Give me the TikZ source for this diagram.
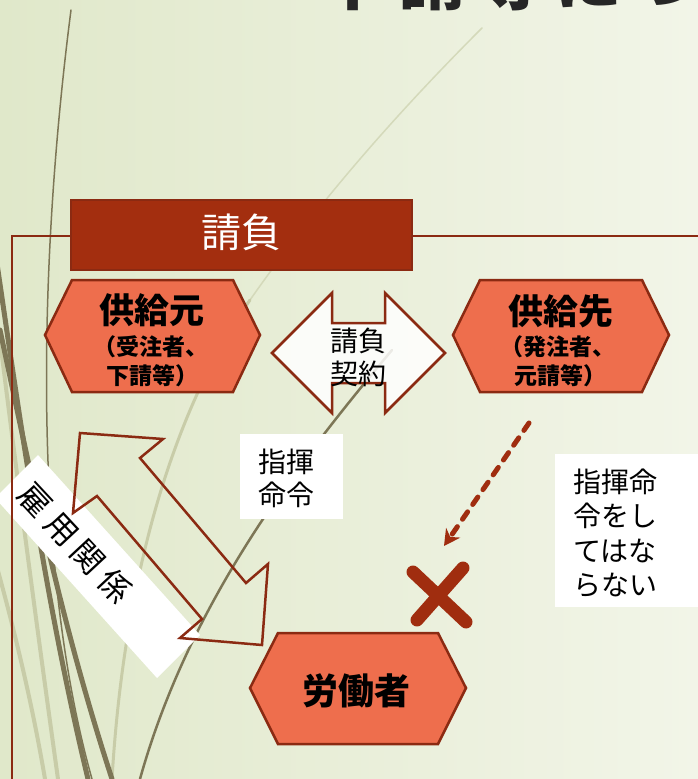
\documentclass[tikz,border=0pt]{standalone}
\usepackage{fontspec}
\setmainfont{Noto Sans CJK JP}
\usetikzlibrary{arrows.meta}
\definecolor{hexfill}{RGB}{238,110,77}
\definecolor{hexline}{RGB}{139,42,18}
\definecolor{hdrfill}{RGB}{163,46,15}
\definecolor{grassdark}{RGB}{125,118,86}
\definecolor{grasslight}{RGB}{200,204,168}
\definecolor{grassfaint}{RGB}{212,217,186}
\definecolor{bgl}{RGB}{224,232,202}
\definecolor{bgr}{RGB}{242,245,232}
\definecolor{xred}{RGB}{160,45,15}
\definecolor{titlecol}{RGB}{38,38,38}
\newcommand{\fsz}[1]{\fontsize{#1}{#1}\selectfont}
\begin{document}
\begin{tikzpicture}[x=1pt,y=-1pt,
  hexa/.style={fill=hexfill,draw=hexline,line width=2.5pt,line join=miter},
  blockarrow/.style={draw=hexline,line width=2.5pt,line join=miter},
  frameline/.style={draw=hexline,line width=2pt},
  grassD/.style={draw=grassdark,line cap=round},
  grassL/.style={draw=grasslight,line cap=round},
  lbl/.style={inner sep=0pt,text=black},
  whitebox/.style={fill=white,draw=none,inner sep=0pt},
  dasharrow/.style={draw=xred,line width=5pt,dash pattern=on 9pt off 9pt,line cap=round,-{Stealth[length=16pt,width=17pt,inset=5pt]}},
  xmark/.style={draw=xred,line width=13pt,line cap=round}
]
\useasboundingbox (0,0) rectangle (698,779);
\shade[left color=bgl,right color=bgr] (0,0) rectangle (698,779);

% decorative grass blades
\draw[draw=grassfaint,line cap=round,line width=1.5pt] (482,28) .. controls (400,110) and (320,200) .. (250,300);
\draw[grassL,line width=3pt] (250,300) .. controls (180,400) and (125,560) .. (112,779);
\draw[grassL,line width=4pt] (0,340) .. controls (20,500) and (40,650) .. (58,779);
\draw[grassL,line width=4pt] (-5,560) .. controls (20,650) and (35,720) .. (45,779);
\draw[grassD,line width=1.5pt] (71,10) .. controls (40,250) and (30,560) .. (92,779);
\draw[grassD,line width=5pt] (-5,250) .. controls (20,420) and (45,600) .. (88,779);
\draw[grassD,line width=5pt] (0,330) .. controls (30,470) and (60,620) .. (112,779);
\draw[grassD,line width=2.5pt] (392,350) .. controls (300,460) and (190,600) .. (140,779);

% clipped title
\begin{scope}
\clip (0,0) rectangle (698,13);
\node[anchor=base west,inner sep=0pt,text=titlecol,font=\fsz{68}\bfseries] (title) at (320,5)
  {下\kern10pt請\kern10pt等\kern10ptに\kern10ptつ\kern10ptい\kern10ptて};
\end{scope}

% frame line
\coordinate (fr1) at (698,236);
\coordinate (fr2) at (12,236);
\coordinate (fr3) at (12,779);

% white label of employment relation
\path[fill=white] (38,455) -- (200,635) -- (157,678) -- (-5,498) -- cycle;
\draw[frameline] (fr1) -- (fr2) -- (fr3);

% header
\node[fill=hdrfill,draw=hexline,line width=2pt,minimum width=341pt,minimum height=70pt,inner sep=0pt] (hdr) at (241.5,235) {};
\node[lbl,text=white,font=\fsz{40}] (hdrtext) at (241,232) {請負};

% supplier hexagon
\path[hexa] (45,335) -- (72,280) -- (233,280) -- (260,335) -- (233,392) -- (72,392) -- cycle;
\node[lbl,font=\fsz{35}\bfseries] (src) at (152,310) {供給元};
\node[lbl,font=\fsz{23}\bfseries] (srcA) at (151,347) {（受注者、};
\node[lbl,font=\fsz{23}\bfseries] (srcB) at (152,376) {下請等）};

% client hexagon
\path[hexa] (453,335) -- (480,280) -- (642,280) -- (669,335) -- (642,392) -- (480,392) -- cycle;
\node[lbl,font=\fsz{35}\bfseries] (dst) at (561,311) {供給先};
\node[lbl,font=\fsz{23}\bfseries] (dstA) at (558,347) {（発注者、};
\node[lbl,font=\fsz{23}\bfseries] (dstB) at (560,376) {元請等）};

% contract double arrow
\path[blockarrow,fill=white,fill opacity=0.85] (272,353) -- (332,293) -- (332,323) -- (385,323) -- (385,293) -- (445,353) -- (385,413) -- (385,383) -- (332,383) -- (332,413) -- cycle;
\node[lbl,align=center,font=\fontsize{28}{33}\selectfont] (contract) at (358,357) {請負\\契約};

% diagonal double arrow (employment / command)
\path[blockarrow] (80,433) -- (163,439) -- (140,458) -- (246,583) -- (268,564) -- (262,645) -- (180,638) -- (202,619) -- (97,496) -- (73,513) -- cycle;
\node[lbl,rotate=-47,font=\fsz{32}] (emp) at (75,543) {雇\kern7pt用\kern7pt関\kern7pt係};

% command box
\node[whitebox,minimum width=103pt,minimum height=85pt] (cmdbox) at (291.5,476.5) {};
\node[lbl,anchor=west,align=left,font=\fontsize{28}{33}\selectfont] (cmd) at (258,478) {指揮\\命令};

% forbidden box
\node[whitebox,minimum width=143pt,minimum height=153pt] (nobox) at (626.5,530.5) {};
\node[lbl,anchor=west,align=left,font=\fontsize{28}{34.5}\selectfont] (no) at (573,533) {指揮命\\令をし\\てはな\\らない};

% worker hexagon
\path[hexa] (250,688) -- (278,633) -- (438,633) -- (466,688) -- (438,744) -- (278,744) -- cycle;
\node[lbl,font=\fsz{36}\bfseries] (wrk) at (356,691) {労働者};

% dashed arrow and cross
\coordinate (dA) at (529,423);
\coordinate (dB) at (444,546);
\draw[dasharrow] (dA) -- (dB);
\coordinate (x1) at (413,572);
\coordinate (x2) at (466,622);
\coordinate (x3) at (463,568);
\coordinate (x4) at (417,620);
\draw[xmark] (x1) -- (x2);
\draw[xmark] (x3) -- (x4);
\end{tikzpicture}
\end{document}
